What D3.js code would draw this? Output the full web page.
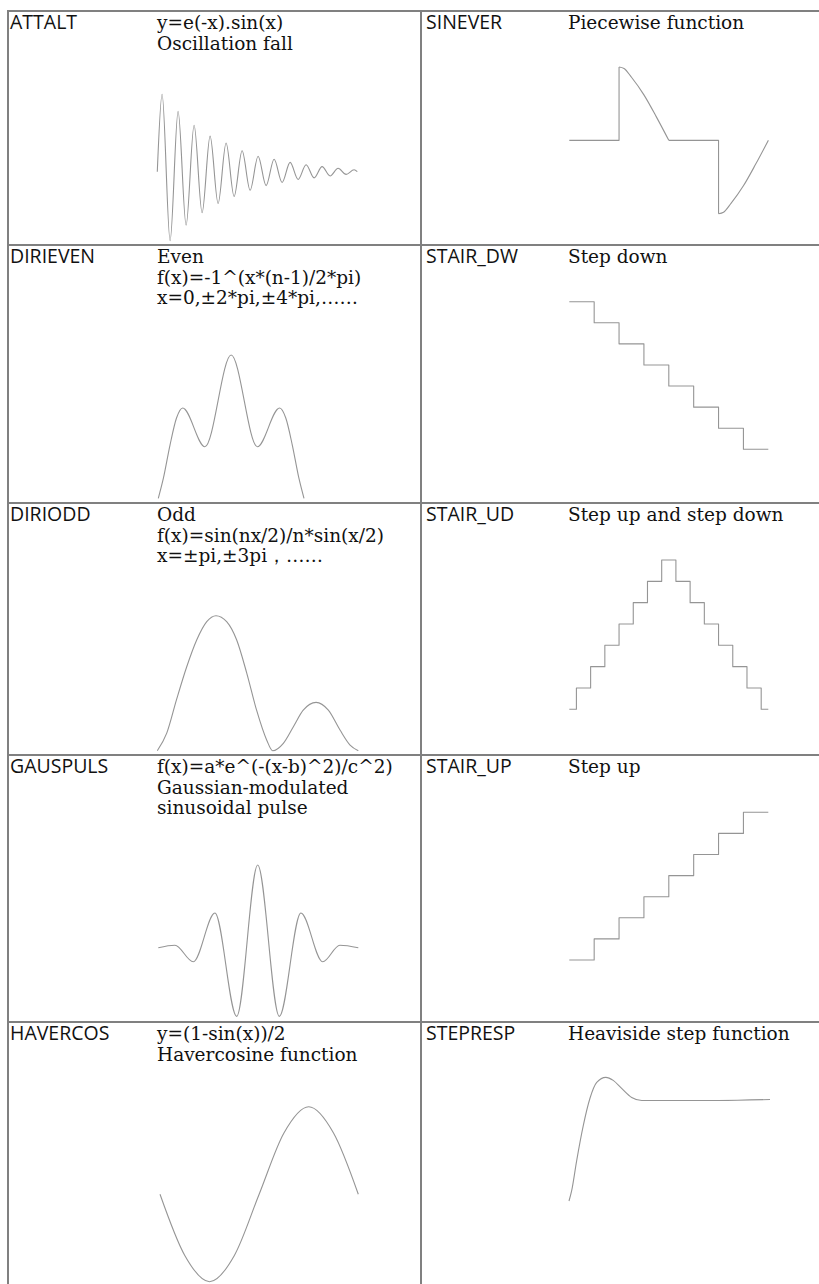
<!DOCTYPE html>
<html>
<head>
<meta charset="utf-8">
<script src="https://cdn.jsdelivr.net/npm/d3@7"></script>
<style>
  html, body { margin: 0; padding: 0; background: #fff; }
  svg { display: block; }
  .lbl { font-family: "Open Sans", "Noto Sans", sans-serif; font-size: 19.5px; fill: #111; }
  .desc { font-family: "DejaVu Serif", "Liberation Serif", serif; font-size: 18.5px; fill: #111; }
</style>
</head>
<body>
<svg id="chart" width="819" height="1284"></svg>
<script>
// ---------- DATA ----------
const leftNames  = ["ATTALT", "DIRIEVEN", "DIRIODD", "GAUSPULS", "HAVERCOS"];
const rightNames = ["SINEVER", "STAIR_DW", "STAIR_UD", "STAIR_UP", "STEPRESP"];
const leftDesc = [
  ["y=e(-x).sin(x)", "Oscillation fall"],
  ["Even", "f(x)=-1^(x*(n-1)/2*pi)", "x=0,±2*pi,±4*pi,……"],
  ["Odd", "f(x)=sin(nx/2)/n*sin(x/2)", "x=±pi,±3pi，……"],
  ["f(x)=a*e^(-(x-b)^2)/c^2)", "Gaussian-modulated", "sinusoidal pulse"],
  ["y=(1-sin(x))/2", "Havercosine function"]
];
const rightDesc = [
  ["Piecewise function"],
  ["Step down"],
  ["Step up and step down"],
  ["Step up"],
  ["Heaviside step function"]
];

// ATTALT: decaying oscillation (extrema)
const attaltT = [0, 0.3, 0.8, 1.3, 1.8, 2.3, 2.8, 3.3, 3.8, 4.3, 4.8, 5.3, 5.8, 6.3, 6.8, 7.3, 7.8, 8.3, 8.8, 9.3, 9.8, 10.3, 10.8, 11.3, 11.8, 12.3, 12.5];
const attaltV = [0, 1.00, -0.89, 0.78, -0.69, 0.60, -0.53, 0.46, -0.41, 0.37, -0.32, 0.27, -0.24, 0.20, -0.18, 0.16, -0.14, 0.12, -0.10, 0.09, -0.08, 0.065, -0.055, 0.045, -0.035, 0.025, 0.0];

// DIRIEVEN
const dirievenX = [-1, -0.93, -0.84, -0.75, -0.665, -0.36, 0, 0.36, 0.665, 0.75, 0.84, 0.93, 1];
const dirievenV = [0, 0.14, 0.37, 0.56, 0.63, 0.36, 1, 0.36, 0.63, 0.56, 0.37, 0.14, 0];

// DIRIODD
const diriodX = [0, 0.047, 0.096, 0.146, 0.196, 0.246, 0.292, 0.345, 0.395, 0.445, 0.494, 0.544, 0.574, 0.627, 0.677, 0.726, 0.79, 0.851, 0.909, 0.959, 1];
const diriodV = [0, 0.13, 0.38, 0.62, 0.82, 0.956, 1, 0.956, 0.82, 0.575, 0.30, 0.08, 0, 0.055, 0.178, 0.30, 0.358, 0.30, 0.153, 0.042, 0];

// GAUSPULS
const gausX = [0, 0.083, 0.175, 0.283, 0.392, 0.497, 0.605, 0.713, 0.822, 0.908, 1];
const gausV = [0, 0.03, -0.17, 0.42, -0.83, 1, -0.83, 0.42, -0.17, 0.03, 0];

// HAVERCOS (x in eighths of a period)
const haverX = [0, 1, 2, 3, 4, 5, 6, 7, 8];
const haverV = [0.5, 0.15, 0, 0.15, 0.5, 0.85, 1, 0.85, 0.5];

// SINEVER piecewise
const sineverFlat1X = [0, 1, 1], sineverFlat1V = [0, 0, 1];
const sineverFallX = [1, 1.1, 1.25, 1.5, 1.75, 2], sineverFallV = [1, 0.98, 0.86, 0.62, 0.32, 0];
const sineverFlat2X = [2, 3, 3], sineverFlat2V = [0, 0, -1];
const sineverRiseX = [3, 3.1, 3.25, 3.5, 3.75, 4], sineverRiseV = [-1, -0.98, -0.86, -0.62, -0.32, 0];

// Stairs
const stairDwX = [0, 1, 2, 3, 4, 5, 6, 7, 8];
const stairDwV = [7, 6, 5, 4, 3, 2, 1, 0, 0];
const stairUdX = [0, 0.5, 1.5, 2.5, 3.5, 4.5, 5.5, 6.5, 7.5, 8.5, 9.5, 10.5, 11.5, 12.5, 13.5, 14];
const stairUdV = [0, 1, 2, 3, 4, 5, 6, 7, 6, 5, 4, 3, 2, 1, 0, 0];
const stairUpX = [0, 1, 2, 3, 4, 5, 6, 7, 8];
const stairUpV = [0, 1, 2, 3, 4, 5, 6, 7, 7];

// STEPRESP
const stepX = [0, 0.13, 0.38, 0.71, 1.04, 1.38, 1.83, 2.2, 2.62, 3.12, 3.62, 7.43, 10];
const stepV = [0, 0.1, 0.4, 0.75, 1.02, 1.18, 1.23, 1.2, 1.12, 1.03, 1.0, 1.0, 1.01];

// ---------- LAYOUT ----------
const W = 819, H = 1284;
const rowLines = [11, 245, 503, 755, 1022];
const textTops = [11, 245, 503, 755, 1022];
const colLines = [8, 421];
const svg = d3.select("#chart");

const grid = svg.append("g").attr("stroke", "#808080").attr("stroke-width", 2);
rowLines.forEach(y => grid.append("line").attr("x1", 7).attr("x2", W).attr("y1", y).attr("y2", y));
colLines.forEach(x => grid.append("line").attr("x1", x).attr("x2", x).attr("y1", 10).attr("y2", H));

// texts
const lineGap = 20.5, firstBase = 18;
function addText(names, descs, xLabel, xDesc) {
  names.forEach((n, i) => {
    const top = textTops[i];
    svg.append("text").attr("class", "lbl").attr("x", xLabel).attr("y", top + firstBase).text(n);
    descs[i].forEach((s, j) => {
      svg.append("text").attr("class", "desc").attr("x", xDesc).attr("y", top + firstBase + j * lineGap).text(s);
    });
  });
}
addText(leftNames, leftDesc, 10, 157);
addText(rightNames, rightDesc, 426, 568);

// curves
const curves = svg.append("g").attr("fill", "none").attr("stroke", "#959595").attr("stroke-width", 1.1).attr("stroke-linejoin", "round");
function draw(xArr, vArr, xDom, xRange, yDom, yRange, curve) {
  const xs = d3.scaleLinear().domain(xDom).range(xRange);
  const ys = d3.scaleLinear().domain(yDom).range(yRange);
  const pts = xArr.map((x, i) => [x, vArr[i]]);
  const line = d3.line().x(d => xs(d[0])).y(d => ys(d[1])).curve(curve);
  curves.append("path").attr("d", line(pts));
}
const mono = d3.curveMonotoneX;
draw(attaltT, attaltV, [0, 12.5], [157.3, 357.3], [0, 1], [171.7, 94.3], mono);
draw(dirievenX, dirievenV, [-1, 1], [158.3, 304], [0, 1], [498.3, 355], mono);
draw(diriodX, diriodV, [0, 1], [157.3, 358.3], [0, 1], [750.7, 615.7], mono);
draw(gausX, gausV, [0, 1], [158.3, 358.3], [0, 1], [947.7, 865], mono);
draw(haverX, haverV, [0, 8], [160, 358.3], [0, 1], [1281.7, 1106.7], mono);
const sxD = [0, 4], sxR = [569.3, 768.3], syD = [-1, 1], syR = [213.7, 67];
draw(sineverFlat1X, sineverFlat1V, sxD, sxR, syD, syR, d3.curveLinear);
draw(sineverFallX, sineverFallV, sxD, sxR, syD, syR, mono);
draw(sineverFlat2X, sineverFlat2V, sxD, sxR, syD, syR, d3.curveLinear);
draw(sineverRiseX, sineverRiseV, sxD, sxR, syD, syR, mono);
draw(stairDwX, stairDwV, [0, 8], [569.3, 768.3], [0, 7], [449.3, 301.7], d3.curveStepAfter);
draw(stairUdX, stairUdV, [0, 14], [569.3, 768.3], [0, 7], [709.3, 560], d3.curveStepAfter);
draw(stairUpX, stairUpV, [0, 8], [569.3, 768.3], [0, 7], [960, 812.3], d3.curveStepAfter);
draw(stepX, stepV, [0, 10], [569, 770], [0, 1], [1201, 1100.5], mono);
</script>
</body>
</html>
